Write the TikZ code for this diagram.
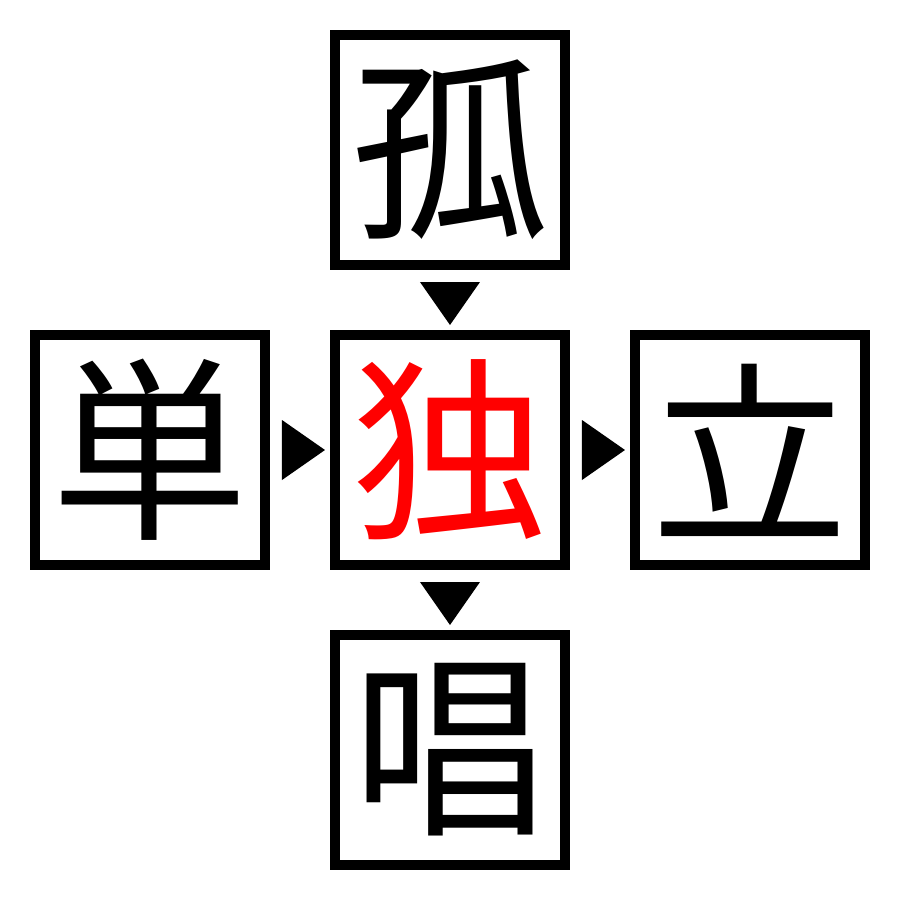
\documentclass[tikz,border=0pt]{standalone}
\usepackage{fontspec}
\newfontfamily\jpfont{Noto Sans CJK JP}
\usepackage{tikz}
\usetikzlibrary{positioning,calc}
\tikzstyle{charbox} = [
    rectangle,                 % Shape
    draw=black,                % Border color
    line width=1mm,            % Thick border
    minimum size=2.3cm,        % Square box
    inner sep=0pt,
    outer sep=0pt,
    text centered,             % Centered text
    font=\jpfont\fontsize{56}{56}\selectfont
]
\tikzstyle{marker} = [fill=black]

\begin{document}
\begin{tikzpicture}[node distance=0.7cm]
		\useasboundingbox (-4.5,-4.5) rectangle (4.5,4.5);

		% Centre character
		\node[charbox, text=red] (doku) at (0,0) {独};

		% Surrounding characters
		\node[charbox, above=of doku] (ko) {孤};
		\node[charbox, left=of doku] (tan) {単};
		\node[charbox, right=of doku] (ritsu) {立};
		\node[charbox, below=of doku] (sho) {唱};

		% Markers between the boxes
		\coordinate (m_top) at ($(ko.south)!0.5!(doku.north)$);
		\coordinate (m_bottom) at ($(doku.south)!0.5!(sho.north)$);
		\coordinate (m_left) at ($(tan.east)!0.5!(doku.west)$);
		\coordinate (m_right) at ($(doku.east)!0.5!(ritsu.west)$);

		\fill[marker] ($(m_top)+(-0.3,0.18)$) -- ++(0.6,0) -- ++(-0.3,-0.43) -- cycle;
		\fill[marker] ($(m_bottom)+(-0.3,0.18)$) -- ++(0.6,0) -- ++(-0.3,-0.43) -- cycle;
		\fill[marker] ($(m_left)+(-0.18,0.3)$) -- ++(0,-0.6) -- ++(0.43,0.3) -- cycle;
		\fill[marker] ($(m_right)+(-0.18,0.3)$) -- ++(0,-0.6) -- ++(0.43,0.3) -- cycle;
	\end{tikzpicture}
\end{document}
